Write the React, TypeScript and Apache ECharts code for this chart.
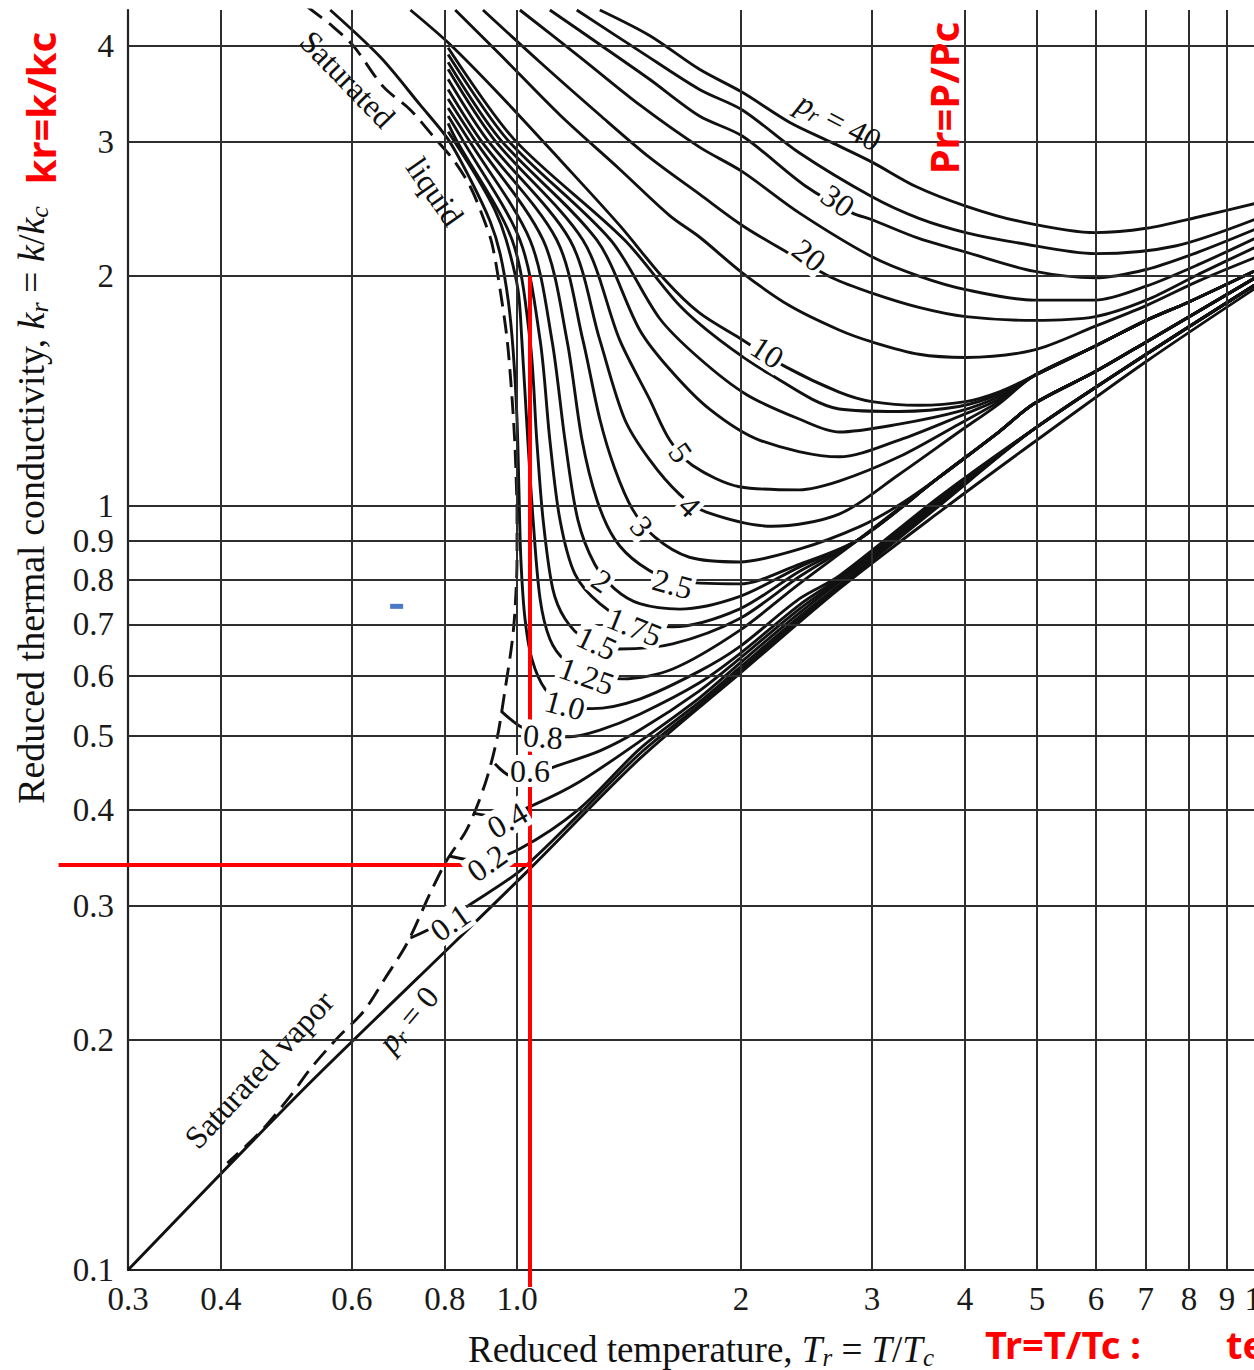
import React, { useEffect, useRef } from "react";
import * as echarts from "echarts";

// ---------- axes ----------
const TR_TICKS = [0.3, 0.4, 0.6, 0.8, 1, 2, 3, 4, 5, 6, 7, 8, 9, 10];
const TR_TICK_LABELS = ["0.3", "0.4", "0.6", "0.8", "1.0", "2", "3", "4", "5", "6", "7", "8", "9", "10"];
const KR_TICKS = [0.1, 0.2, 0.3, 0.4, 0.5, 0.6, 0.7, 0.8, 0.9, 1, 2, 3, 4];
const KR_TICK_LABELS = ["0.1", "0.2", "0.3", "0.4", "0.5", "0.6", "0.7", "0.8", "0.9", "1", "2", "3", "4"];
const TR_GRID = [0.4, 0.6, 0.8, 1, 2, 3, 4, 5, 6, 7, 8, 9];
const KR_GRID = [0.2, 0.3, 0.4, 0.5, 0.6, 0.7, 0.8, 0.9, 1, 2, 3, 4];

// ---------- curves: [Tr, kr] ----------
const TAIL_LOW = [[4.946, 1.26], [7.01, 1.58], [10, 1.97]];
const TAIL_MID = [[2.883, 0.905], [3.69, 1.09], [4.441, 1.25], [4.946, 1.36], [5.99, 1.5], [7.01, 1.64], [10, 2.01]];
const TAIL_HIGH = [[4.946, 1.48], [5.99, 1.62], [7.01, 1.75], [8.0, 1.85], [10, 2.05]];

const PR_0 = [[0.3, 0.1], [0.512, 0.171], [0.735, 0.241], [1.034, 0.333], [1.462, 0.467], [1.99, 0.603], [2.71, 0.779], [3.69, 0.981], [4.946, 1.211], [7.01, 1.546], [10, 1.95]];
const SAT_VAPOR = [[1.0, 1.0], [1.0, 0.852], [0.994, 0.733], [0.985, 0.664], [0.964, 0.576], [0.94, 0.496], [0.906, 0.433], [0.857, 0.378], [0.805, 0.344], [0.764, 0.311], [0.712, 0.268], [0.665, 0.241], [0.622, 0.218], [0.573, 0.201], [0.528, 0.1835], [0.496, 0.169], [0.453, 0.152], [0.408, 0.138]];
const SAT_LIQUID = [[0.523, 4.5], [0.566, 4.24], [0.603, 4.0], [0.661, 3.54], [0.719, 3.3], [0.771, 3.05], [0.821, 2.84], [0.865, 2.62], [0.9, 2.39], [0.926, 2.2], [0.949, 1.92], [0.97, 1.65], [0.985, 1.38], [0.994, 1.19], [1.0, 1.0]];

const PR_0_1 = [[0.719, 0.272], [0.788, 0.284], [0.865, 0.301], [1.009, 0.333], [1.215, 0.396], [1.462, 0.474], [1.759, 0.549], [1.99, 0.608], [2.395, 0.71], [2.71, 0.784], [3.69, 1.0], ...TAIL_LOW];
const PR_0_2 = [[0.813, 0.348], [0.892, 0.343], [1.009, 0.356], [1.215, 0.402], [1.462, 0.481], [1.759, 0.554], [1.99, 0.614], [2.395, 0.716], [2.71, 0.788], [3.69, 1.005], ...TAIL_LOW];
const PR_0_4 = [[0.876, 0.396], [0.949, 0.392], [1.057, 0.407], [1.215, 0.436], [1.462, 0.492], [1.759, 0.561], [1.99, 0.622], [2.395, 0.724], [2.71, 0.796], [3.69, 1.01], ...TAIL_LOW];
const PR_0_6 = [[0.934, 0.46], [0.985, 0.443], [1.057, 0.447], [1.131, 0.457], [1.292, 0.478], [1.462, 0.509], [1.759, 0.573], [1.99, 0.631], [2.395, 0.733], [2.71, 0.8], [3.69, 1.015], ...TAIL_LOW];
const PR_0_8 = [[0.952, 0.539], [1.009, 0.515], [1.091, 0.499], [1.178, 0.499], [1.292, 0.509], [1.462, 0.534], [1.759, 0.587], [1.99, 0.64], [2.395, 0.742], [2.71, 0.805], [3.69, 1.02], ...TAIL_LOW];
const PR_1_0 = [[0.561, 4.46], [0.655, 3.87], [0.741, 3.35], [0.808, 3.02], [0.865, 2.68], [0.92, 2.36], [0.949, 2.14], [0.973, 1.86], [0.988, 1.6], [1.0, 1.3], [1.006, 1.05], [1.012, 0.852], [1.025, 0.712], [1.047, 0.631], [1.091, 0.576], [1.16, 0.551], [1.261, 0.543], [1.462, 0.559], [1.759, 0.608], [1.99, 0.654], [2.395, 0.756], [2.71, 0.81], [3.69, 1.027], ...TAIL_LOW];
const PR_1_25 = [[0.808, 3.09], [0.878, 2.72], [0.934, 2.44], [0.967, 2.23], [1.003, 1.92], [1.015, 1.65], [1.034, 1.22], [1.051, 0.96], [1.074, 0.756], [1.107, 0.67], [1.16, 0.628], [1.253, 0.603], [1.387, 0.594], [1.619, 0.612], [1.99, 0.687], [2.395, 0.791], ...TAIL_MID];
const PR_1_5 = [[0.808, 3.17], [0.828, 3.02], [0.985, 2.23], [1.041, 1.65], [1.063, 1.22], [1.084, 0.96], [1.117, 0.779], [1.16, 0.712], [1.234, 0.67], [1.374, 0.65], [1.619, 0.66], [1.99, 0.712], [2.395, 0.808], ...TAIL_MID];
const PR_1_75 = [[0.808, 3.24], [0.844, 3.02], [1.009, 2.23], [1.074, 1.65], [1.107, 1.22], [1.142, 0.96], [1.196, 0.815], [1.292, 0.745], [1.439, 0.701], [1.619, 0.695], [1.99, 0.733], [2.395, 0.821], ...TAIL_MID];
const PR_2 = [[0.808, 3.32], [0.86, 3.02], [1.041, 2.23], [1.114, 1.65], [1.16, 1.22], [1.207, 0.96], [1.272, 0.839], [1.353, 0.779], [1.462, 0.745], [1.654, 0.733], [1.99, 0.761], [2.395, 0.832], ...TAIL_MID];
const PR_2_5 = [[0.808, 3.41], [0.876, 3.02], [1.084, 2.23], [1.167, 1.65], [1.223, 1.22], [1.28, 1.02], [1.353, 0.905], [1.462, 0.839], [1.628, 0.798], [1.99, 0.791], [2.395, 0.839], ...TAIL_MID];
const PR_3 = [[0.808, 3.51], [0.892, 3.02], [1.131, 2.23], [1.226, 1.65], [1.292, 1.3], [1.353, 1.12], [1.43, 0.99], [1.531, 0.911], [1.705, 0.857], [1.99, 0.845], [2.395, 0.878], [2.883, 0.939], [3.262, 1.003], ...TAIL_MID.slice(1)];
const PR_4 = [[0.808, 3.62], [0.911, 3.02], [1.178, 2.23], [1.292, 1.65], [1.395, 1.3], [1.507, 1.15], [1.654, 1.036], [1.797, 0.982], [2.203, 0.941], [2.71, 0.976], [3.262, 1.1], [3.925, 1.25], [4.441, 1.36], ...TAIL_HIGH];
const PR_5 = [[0.808, 3.73], [0.931, 3.02], [1.226, 2.23], [1.374, 1.65], [1.507, 1.38], [1.604, 1.22], [1.722, 1.13], [1.99, 1.06], [2.395, 1.05], [2.71, 1.078], [3.262, 1.16], [3.925, 1.28], [4.441, 1.37], ...TAIL_HIGH];
const PR_6 = [[0.808, 3.81], [0.949, 3.02], [1.28, 2.23], [1.462, 1.7], [1.604, 1.51], [1.813, 1.34], [2.117, 1.22], [2.71, 1.16], [3.262, 1.22], [3.925, 1.31], [4.441, 1.38], ...TAIL_HIGH];
const PR_7 = [[0.808, 3.9], [0.97, 3.02], [1.336, 2.23], [1.555, 1.76], [1.759, 1.56], [2.033, 1.4], [2.395, 1.3], [2.71, 1.25], [3.262, 1.28], [3.925, 1.33], [4.441, 1.39], ...TAIL_HIGH];
const PR_8 = [[0.808, 3.98], [0.991, 3.02], [1.395, 2.23], [1.654, 1.83], [1.871, 1.65], [2.183, 1.49], [2.71, 1.34], [3.262, 1.33], [3.925, 1.35], [4.441, 1.4], ...TAIL_HIGH];
const PR_10 = [[0.719, 4.46], [0.813, 4.02], [0.949, 3.45], [1.142, 2.84], [1.374, 2.33], [1.579, 1.98], [1.759, 1.79], [1.99, 1.66], [2.301, 1.52], [2.71, 1.41], [3.0, 1.37], [3.469, 1.355], [4.01, 1.37], [4.441, 1.41], ...TAIL_HIGH];
const PR_15 = [[0.826, 4.46], [0.949, 3.9], [1.142, 3.25], [1.374, 2.76], [1.604, 2.4], [1.759, 2.25], [2.008, 2.02], [2.323, 1.83], [2.71, 1.7], [3.0, 1.64], [3.469, 1.58], [4.01, 1.565], [4.946, 1.6], [5.99, 1.72], [7.01, 1.83], [8.235, 1.97], [10, 2.13]];
const PR_20 = [[0.9, 4.46], [1.074, 3.81], [1.292, 3.25], [1.507, 2.86], [1.759, 2.56], [2.008, 2.33], [2.323, 2.14], [2.651, 1.99], [3.0, 1.9], [3.469, 1.82], [4.01, 1.77], [4.946, 1.75], [5.99, 1.77], [7.01, 1.86], [8.235, 2.01], [10, 2.2]];
const PR_25 = [[1.009, 4.46], [1.215, 3.87], [1.462, 3.35], [1.759, 2.95], [2.008, 2.74], [2.395, 2.42], [3.0, 2.12], [3.469, 2.0], [4.01, 1.92], [4.946, 1.86], [5.99, 1.86], [7.01, 1.94], [8.235, 2.07], [10, 2.26]];
const PR_30 = [[1.107, 4.46], [1.292, 4.02], [1.507, 3.62], [1.759, 3.24], [2.008, 3.05], [2.447, 2.62], [2.821, 2.42], [3.0, 2.37], [3.469, 2.24], [4.01, 2.15], [4.946, 2.03], [5.99, 1.99], [7.01, 2.04], [8.235, 2.15], [10, 2.32]];
const PR_35 = [[1.203, 4.46], [1.462, 3.94], [1.759, 3.51], [2.008, 3.3], [2.395, 2.9], [3.0, 2.54], [3.469, 2.38], [4.01, 2.28], [4.724, 2.21], [5.99, 2.14], [7.67, 2.19], [10, 2.39]];
const PR_40 = [[1.292, 4.46], [1.507, 4.13], [1.759, 3.73], [2.008, 3.48], [2.323, 3.18], [2.651, 2.99], [3.0, 2.82], [3.437, 2.62], [4.01, 2.47], [4.724, 2.36], [5.99, 2.28], [7.01, 2.31], [8.235, 2.39], [10, 2.5]];

// ---------- curve labels ----------
const LABEL_TEXTS = ["40", "30", "20", "10", "5", "4", "3", "2.5", "2", "1.75", "1.5", "1.25", "1.0", "0.8", "0.6", "0.4", "0.2", "0.1", "0"];
const LABEL_TR = [2.71, 2.70, 2.47, 2.17, 1.659, 1.706, 1.471, 1.619, 1.30, 1.439, 1.28, 1.241, 1.16, 1.084, 1.041, 0.97, 0.911, 0.813, 0.714];
const LABEL_KR = [3.19, 2.51, 2.13, 1.59, 1.175, 1.0, 0.941, 0.791, 0.798, 0.695, 0.662, 0.599, 0.549, 0.499, 0.45, 0.388, 0.341, 0.285, 0.213];
const LABEL_ROT = [-28, -35, -38, -33, -55, -45, -50, -15, -35, -22, -25, -20, -15, -5, 0, 30, 35, 35, 50];

const NOTE_TEXTS = ["Saturated", "liquid", "Saturated vapor"];
const NOTE_TR = [0.592, 0.776, 0.45];
const NOTE_KR = [3.62, 2.58, 0.183];
const NOTE_ROT = [-46, -55, 47];

// red annotation (reading at Tr ≈ 1.04, kr ≈ 0.34)
const READ_TR = 1.041;
const READ_KR = 0.339;
const READ_TOP_KR = 2.0;
const BLUE_MARK = [0.69, 0.738];

const SERIF = "'Liberation Serif','DejaVu Serif',serif";
const SANS = "'Noto Sans','Open Sans',sans-serif";

export default function App() {
  const ref = useRef<HTMLDivElement>(null);

  useEffect(() => {
    const chart = echarts.init(ref.current!, null, { renderer: "svg" });

    const curve = (data: number[][], dashed = false) => ({
      type: "line",
      data,
      symbol: "none",
      showSymbol: false,
      smooth: 0.3,
      silent: true,
      animation: false,
      z: 3,
      lineStyle: { color: "#111111", width: 2.9, type: dashed ? [18, 9] : "solid" },
    });

    const fmt = (ticks: number[], labels: string[]) => (v: number) => {
      const i = ticks.findIndex((t) => Math.abs(t - v) < t * 1e-6);
      return i >= 0 ? labels[i] : "";
    };

    const curves = [PR_0, PR_0_1, PR_0_2, PR_0_4, PR_0_6, PR_0_8, PR_1_0, PR_1_25, PR_1_5, PR_1_75, PR_2, PR_2_5, PR_3, PR_4, PR_5, PR_6, PR_7, PR_8, PR_10, PR_15, PR_20, PR_25, PR_30, PR_35, PR_40];

    chart.setOption({
      animation: false,
      backgroundColor: "#ffffff",
      grid: { left: 128, top: 10, width: 1133, height: 1260, containLabel: false, outerBoundsMode: "none" },
      xAxis: {
        type: "log",
        logBase: 10,
        min: 0.3,
        max: 10,
        axisLine: { show: true, lineStyle: { color: "#222", width: 2.2 } },
        axisTick: { show: false },
        splitLine: { show: false },
        axisLabel: {
          customValues: TR_TICKS,
          formatter: fmt(TR_TICKS, TR_TICK_LABELS),
          fontFamily: SERIF,
          fontSize: 33,
          color: "#1a1a1a",
          margin: 12,
        },
      },
      yAxis: {
        type: "log",
        logBase: 10,
        min: 0.1,
        max: 4.46,
        axisLine: { show: true, lineStyle: { color: "#222", width: 2.2 } },
        axisTick: { show: false },
        splitLine: { show: false },
        axisLabel: {
          customValues: KR_TICKS,
          formatter: fmt(KR_TICKS, KR_TICK_LABELS),
          fontFamily: SERIF,
          fontSize: 33,
          color: "#1a1a1a",
          margin: 14,
        },
      },
      series: [
        {
          type: "line",
          data: [[0.3, 0.1]],
          symbol: "none",
          silent: true,
          z: 1,
          lineStyle: { width: 0 },
          markLine: {
            silent: true,
            symbol: ["none", "none"],
            animation: false,
            label: { show: false },
            lineStyle: { color: "#2e2e2e", width: 2, type: "solid" },
            data: [...TR_GRID.map((v) => ({ xAxis: v })), ...KR_GRID.map((v) => ({ yAxis: v }))],
          },
        },
        ...curves.map((c) => curve(c)),
        curve(SAT_VAPOR, true),
        curve(SAT_LIQUID, true),
      ],
    });

    const px = (tr: number, kr: number) => chart.convertToPixel("grid", [tr, kr]) as number[];
    const deg = Math.PI / 180;
    const richStyle = (size: number) => ({
      n: { fontFamily: SERIF, fontSize: size, fill: "#111", color: "#111" },
      i: { fontFamily: SERIF, fontSize: size, fontStyle: "italic", fill: "#111", color: "#111" },
      s: { fontFamily: SERIF, fontSize: Math.round(size * 0.68), fontStyle: "italic", fill: "#111", color: "#111", padding: [Math.round(size * 0.42), 0, 0, 0] },
    });
    const textEl = (x: number, y: number, rot: number, text: string, extra: any = {}) => ({
      type: "text",
      x,
      y,
      rotation: rot * deg,
      z: 20,
      silent: true,
      style: {
        text,
        fill: "#111",
        fontFamily: SERIF,
        fontSize: 32,
        align: "center",
        verticalAlign: "middle",
        textAlign: "center",
        textVerticalAlign: "middle",
        ...extra,
      },
    });

    const graphics: any[] = [];
    LABEL_TEXTS.forEach((t, i) => {
      const [x, y] = px(LABEL_TR[i], LABEL_KR[i]);
      if (t === "40" || t === "0") {
        graphics.push(textEl(x, y, LABEL_ROT[i], `{i|p}{s|r}{n| = ${t}}`, { rich: richStyle(32) }));
      } else {
        graphics.push(textEl(x, y, LABEL_ROT[i], t, { backgroundColor: "#fff", padding: [0, 2] }));
      }
    });
    NOTE_TEXTS.forEach((t, i) => {
      const [x, y] = px(NOTE_TR[i], NOTE_KR[i]);
      graphics.push(textEl(x, y, NOTE_ROT[i], t));
    });

    // red reading lines
    const [rx, ry] = px(READ_TR, READ_KR);
    const [, rTop] = px(READ_TR, READ_TOP_KR);
    const [, rBottom] = px(READ_TR, 0.095);
    const [rLeft] = px(0.242, READ_KR);
    graphics.push({ type: "line", z: 15, silent: true, shape: { x1: rx, y1: rTop, x2: rx, y2: rBottom }, style: { stroke: "#ff0000", lineWidth: 4 } });
    graphics.push({ type: "line", z: 15, silent: true, shape: { x1: rLeft, y1: ry, x2: rx, y2: ry }, style: { stroke: "#ff0000", lineWidth: 4 } });
    const [bx, by] = px(BLUE_MARK[0], BLUE_MARK[1]);
    graphics.push({ type: "rect", z: 15, silent: true, shape: { x: bx - 7, y: by - 3, width: 13, height: 5 }, style: { fill: "#4a78c8" } });

    // axis titles
    graphics.push(textEl(701, 1349, 0, "{n|Reduced temperature, }{i|T}{s|r}{n| = }{i|T}{n|/}{i|T}{s|c}", { rich: richStyle(37) }));
    graphics.push(textEl(31, 505, 90, "{n|Reduced thermal conductivity, }{i|k}{s|r}{n| = }{i|k}{n|/}{i|k}{s|c}", { rich: richStyle(38) }));

    // red notes
    const redStyle = { fill: "#ff0000", fontFamily: SANS, fontWeight: "bold", fontSize: 40 };
    graphics.push(textEl(40, 108, 90, "kr=k/kc", redStyle));
    graphics.push(textEl(943, 98, 90, "Pr=P/Pc", redStyle));
    graphics.push(textEl(985, 1344, 0, "Tr=T/Tc :", { ...redStyle, fontSize: 38, align: "left", textAlign: "left" }));
    graphics.push(textEl(1226, 1344, 0, "te", { ...redStyle, fontSize: 38, align: "left", textAlign: "left" }));

    chart.setOption({ graphic: graphics });

    return () => chart.dispose();
  }, []);

  return <div ref={ref} style={{ position: "absolute", left: 0, top: 0, width: 1254, height: 1370, background: "#fff" }} />;
}
